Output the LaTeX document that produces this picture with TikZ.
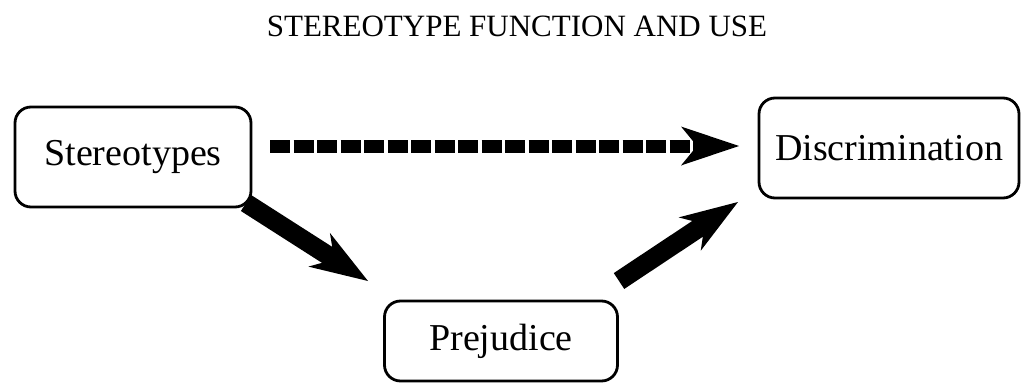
\documentclass[tikz,border=0pt]{standalone}
\usepackage{fontspec}
\setmainfont{Liberation Serif}
\usetikzlibrary{arrows.meta}
\begin{document}
\begin{tikzpicture}[x=1pt,y=-1pt,
  box/.style={draw,line width=2.8pt,rounded corners=16pt,inner sep=0pt,font=\fontsize{38}{42}\selectfont},
  bigarrow/.style={line width=19pt,-{Stealth[length=58pt,width=40pt,inset=18pt,line width=0pt]}},
  dasharrow/.style={line width=13pt,dash pattern=on 20pt off 3.5pt,-{Stealth[length=58pt,width=39pt,inset=16pt,line width=0pt]}}]
\useasboundingbox (0,0) rectangle (1021,383);
\node[font=\fontsize{31}{34}\selectfont] (title) at (517,26) {STEREOTYPE FUNCTION AND USE};
\node[box,minimum width=236pt,minimum height=100pt] (st) at (133,157) {Stereotypes};
\node[box,minimum width=260pt,minimum height=100pt] (di) at (889,148) {Discrimination};
\node[box,minimum width=233pt,minimum height=80pt] (pr) at (501,341) {Prejudice};
\coordinate (d1) at (270,146);
\coordinate (d2) at (739,146);
\draw[dasharrow] (d1) -- (d2);
\coordinate (a1) at (246,203);
\coordinate (a2) at (368,281);
\draw[bigarrow] (a1) -- (a2);
\coordinate (b1) at (619,281);
\coordinate (b2) at (738,202);
\draw[bigarrow] (b1) -- (b2);
\end{tikzpicture}
\end{document}
